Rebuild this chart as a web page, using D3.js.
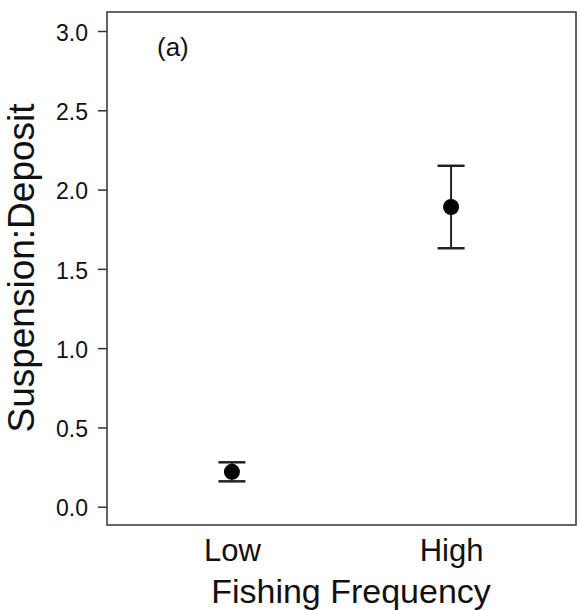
<!DOCTYPE html>
<html><head><meta charset="utf-8">
<script src="https://cdn.jsdelivr.net/npm/d3@7"></script>
<style>body{margin:0;background:#fff}svg{display:block}text{font-family:"Liberation Sans",Arial,sans-serif;fill:#111}</style>
</head><body>
<script>
const categories = ["Low", "High"];
const means = [0.22, 1.89];
const upper = [0.28, 2.15];
const lower = [0.16, 1.63];
const yTicks = [0.0, 0.5, 1.0, 1.5, 2.0, 2.5, 3.0];
const panelLabel = "(a)";
const xTitle = "Fishing Frequency";
const yTitle = "Suspension:Deposit";

const W = 577, H = 610;
const frame = {l: 107, t: 12, r: 576, b: 525};
const svg = d3.select("body").append("svg").attr("width", W).attr("height", H);

const y = d3.scaleLinear().domain([0, 3]).range([506.7, 31]);
const x = d3.scalePoint().domain(categories).range([frame.l, frame.r]).padding(0.57);

// frame
svg.append("rect").attr("x", frame.l).attr("y", frame.t)
  .attr("width", frame.r - frame.l).attr("height", frame.b - frame.t)
  .attr("fill", "none").attr("stroke", "#333").attr("stroke-width", 1.5);

// y axis
const yAxis = svg.append("g").attr("transform", `translate(${frame.l},0)`)
  .call(d3.axisLeft(y).tickValues(yTicks).tickFormat(d3.format(".1f")).tickSize(9).tickPadding(10));
yAxis.select(".domain").remove();
yAxis.selectAll(".tick line").attr("stroke", "#333").attr("stroke-width", 1.5);
yAxis.selectAll(".tick text").attr("font-size", 23).attr("fill", "#111")
  .attr("font-family", "Liberation Sans, Arial, sans-serif").attr("dy", "0.4em");

// x axis labels (no ticks)
const xAxis = svg.append("g").attr("transform", `translate(0,${frame.b})`)
  .call(d3.axisBottom(x).tickSize(0).tickPadding(0));
xAxis.select(".domain").remove();
xAxis.selectAll(".tick text").attr("font-size", 31).attr("fill", "#111")
  .attr("font-family", "Liberation Sans, Arial, sans-serif").attr("dy", "1.15em").attr("y", 0);

// error bars
const g = svg.append("g");
categories.forEach((c, i) => {
  const cx = x(c);
  g.append("line").attr("x1", cx).attr("x2", cx).attr("y1", y(upper[i])).attr("y2", y(lower[i]))
    .attr("stroke", "#222").attr("stroke-width", 2);
  [upper[i], lower[i]].forEach(v => {
    g.append("line").attr("x1", cx - 13.5).attr("x2", cx + 13.5).attr("y1", y(v)).attr("y2", y(v))
      .attr("stroke", "#222").attr("stroke-width", 2.5);
  });
  g.append("circle").attr("cx", cx).attr("cy", y(means[i])).attr("r", 8).attr("fill", "#000");
});

svg.append("text").attr("x", 157).attr("y", 56).attr("font-size", 26).text(panelLabel);
svg.append("text").attr("x", 351).attr("y", 603).attr("text-anchor", "middle").attr("font-size", 34).text(xTitle);
svg.append("text").attr("transform", "translate(34,268) rotate(-90)").attr("text-anchor", "middle")
  .attr("font-size", 37).text(yTitle);
</script>
</body></html>
